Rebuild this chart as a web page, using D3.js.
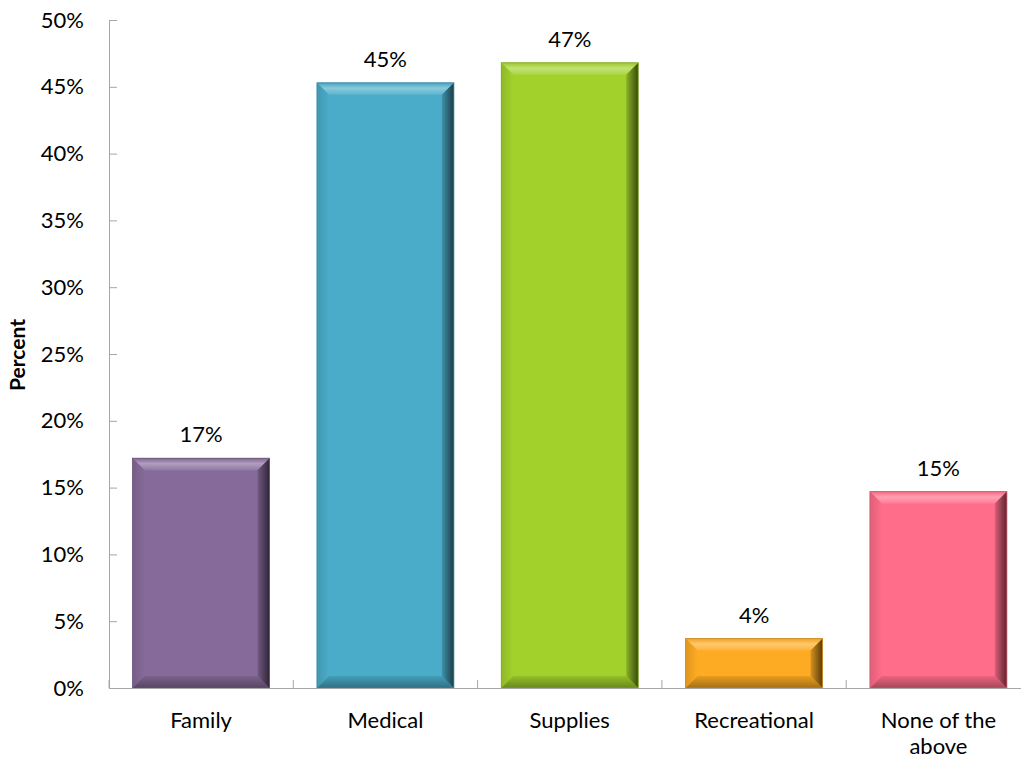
<!DOCTYPE html>
<html><head><meta charset="utf-8">
<script src="https://cdn.jsdelivr.net/npm/d3@7/dist/d3.min.js"></script>
<style>body{margin:0;background:#fff}svg{display:block}text{font-family:Lato,"Open Sans",sans-serif}</style>
</head><body>
<svg id="c" width="1021" height="763"></svg>
<script>
const categories = ["Family","Medical","Supplies","Recreational","None of the above"];
const values = [17.2, 45.3, 46.8, 3.7, 14.7];
const labels = ["17%","45%","47%","4%","15%"];
const colors = ["#866a99","#4aacc9","#a2d12c","#fdab22","#ff6d8a"];
const yTicks = [0,5,10,15,20,25,30,35,40,45,50];

const svg = d3.select("#c");
const m = {l:109, r:1030.5, t:20, b:688};
const FS = 22;
const x = d3.scaleBand().domain(categories).range([m.l, m.r]).paddingInner(0.257).paddingOuter(0.128);
const y = d3.scaleLinear().domain([0,50]).range([m.b, m.t]);
const axisColor = "#a6a6a6";

// y axis
const ya = svg.append("g").attr("transform",`translate(${m.l},0)`)
  .call(d3.axisLeft(y).tickValues(yTicks).tickFormat(d=>d+"%").tickSizeInner(-8).tickSizeOuter(0).tickPadding(25));
ya.select(".domain").attr("stroke",axisColor);
ya.selectAll(".tick line").attr("stroke",axisColor);
ya.selectAll(".tick text").attr("font-size",FS).attr("fill","#000").style("font-family","Lato,'Open Sans',sans-serif");

const defs = svg.append("defs");
function lighten(c,k){return d3.interpolateRgb(c,"#fff")(k);}
function darken(c,k){return d3.interpolateRgb(c,"#000")(k);}

const bw = x.bandwidth();
categories.forEach((cat,i)=>{
  const c = colors[i];
  const x0 = x(cat), x1 = x0+bw, y0 = y(values[i]), y1 = y(0);
  const b = Math.min(12, (y1-y0)/2.5);
  const g = svg.append("g");
  const gt = defs.append("linearGradient").attr("id","gt"+i).attr("x1",0).attr("y1",0).attr("x2",0).attr("y2",1);
  gt.append("stop").attr("offset",0).attr("stop-color",darken(c,0.05));
  gt.append("stop").attr("offset",0.45).attr("stop-color",lighten(c,0.35));
  gt.append("stop").attr("offset",1).attr("stop-color",lighten(c,0.1));
  const gr = defs.append("linearGradient").attr("id","gr"+i).attr("x1",0).attr("y1",0).attr("x2",1).attr("y2",0);
  gr.append("stop").attr("offset",0).attr("stop-color",darken(c,0.15));
  gr.append("stop").attr("offset",1).attr("stop-color",darken(c,0.65));
  const gb = defs.append("linearGradient").attr("id","gb"+i).attr("x1",0).attr("y1",0).attr("x2",0).attr("y2",1);
  gb.append("stop").attr("offset",0).attr("stop-color",darken(c,0.08));
  gb.append("stop").attr("offset",1).attr("stop-color",darken(c,0.35));
  const gl = defs.append("linearGradient").attr("id","gl"+i).attr("x1",0).attr("y1",0).attr("x2",1).attr("y2",0);
  gl.append("stop").attr("offset",0).attr("stop-color",darken(c,0.12));
  gl.append("stop").attr("offset",1).attr("stop-color",c);

  g.append("rect").attr("x",x0).attr("y",y0).attr("width",bw).attr("height",y1-y0).attr("fill",c);
  const poly = pts => g.append("polygon").attr("points",pts.map(p=>p.join(",")).join(" "));
  poly([[x0,y0],[x1,y0],[x1-b,y0+b],[x0+b,y0+b]]).attr("fill",`url(#gt${i})`);
  poly([[x0,y0],[x0+b,y0+b],[x0+b,y1-b],[x0,y1]]).attr("fill",`url(#gl${i})`);
  poly([[x0,y1],[x0+b,y1-b],[x1-b,y1-b],[x1,y1]]).attr("fill",`url(#gb${i})`);
  poly([[x1,y0],[x1,y1],[x1-b,y1-b],[x1-b,y0+b]]).attr("fill",`url(#gr${i})`);
  g.append("rect").attr("x",x0).attr("y",y0).attr("width",bw).attr("height",y1-y0).attr("fill","none").attr("stroke",darken(c,0.2)).attr("stroke-width",0.8);

  svg.append("text").attr("x",x0+bw/2).attr("y",y0-16).attr("text-anchor","middle")
    .attr("font-size",FS).attr("fill","#000").text(labels[i]);
});

// x axis
const xa = svg.append("g").attr("transform",`translate(0,${m.b})`)
  .call(d3.axisBottom(x).tickSize(0).tickPadding(0));
xa.select(".domain").attr("stroke",axisColor);
xa.selectAll(".tick text").remove();
const step = x.step();
const bounds = d3.range(categories.length+1).map(i=>m.l + i*(m.r-m.l)/categories.length);
svg.selectAll(".xt").data(bounds).join("line").attr("class","xt").attr("x1",d=>d).attr("x2",d=>d)
  .attr("y1",m.b-8).attr("y2",m.b).attr("stroke",axisColor);

categories.forEach(cat=>{
  const cx = x(cat)+bw/2;
  const t = svg.append("text").attr("x",cx).attr("y",728).attr("text-anchor","middle").attr("font-size",FS).attr("fill","#000");
  const lines = cat==="None of the above" ? ["None of the","above"] : [cat];
  lines.forEach((l,j)=>t.append("tspan").attr("x",cx).attr("dy",j?26:0).text(l));
});

svg.append("text").attr("transform","translate(25,355) rotate(-90)").attr("text-anchor","middle")
  .attr("font-size",21).attr("font-weight","bold").attr("fill","#000").text("Percent");
</script>
</body></html>
